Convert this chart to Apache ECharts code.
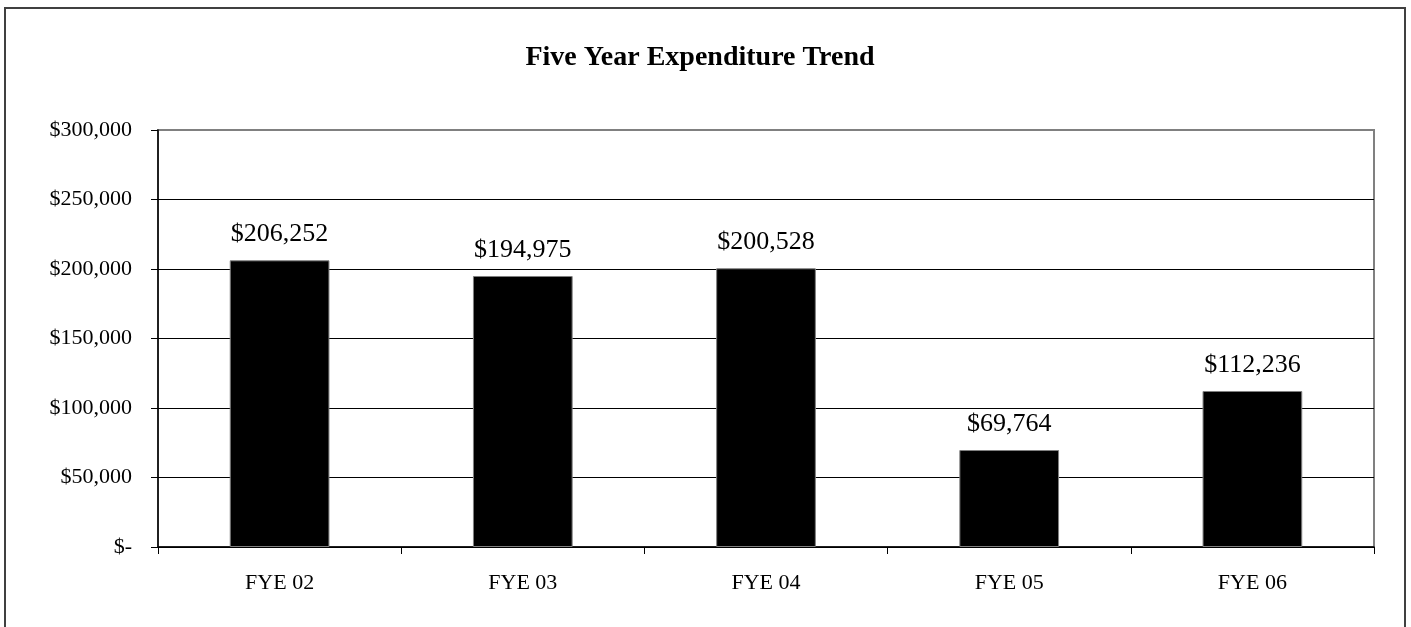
<!DOCTYPE html>
<html><head><meta charset="utf-8">
<script src="https://cdn.jsdelivr.net/npm/echarts@6/dist/echarts.min.js"></script>
<style>html,body{margin:0;padding:0;background:#fff}#c{width:1411px;height:627px}</style>
</head><body><div id="c"></div>
<script>
const categories = ['FYE 02','FYE 03','FYE 04','FYE 05','FYE 06'];
const expenditures = [206252, 194975, 200528, 69764, 112236];
const yTicks = [0, 50000, 100000, 150000, 200000, 250000, 300000];

const FONT = '"Liberation Serif", "Times New Roman", serif';
function money(v){ return v === 0 ? '$-' : '$' + v.toLocaleString('en-US'); }

const chart = echarts.init(document.getElementById('c'));
chart.setOption({
  animation: false,
  backgroundColor: '#fff',
  title: {
    text: 'Five Year Expenditure Trend',
    left: 695, top: 39, textAlign: 'center',
    textStyle: {fontFamily: FONT, fontWeight: 'bold', fontSize: 28, color: '#000'}
  },
  graphic: [{
    type: 'rect', shape: {x: 5, y: 8, width: 1400, height: 630},
    style: {fill: 'none', stroke: '#404040', lineWidth: 2}, silent: true
  }],
  grid: {left: 158, right: 37, top: 130, bottom: 80, show: true, borderColor: '#808080', borderWidth: 2, backgroundColor: 'transparent'},
  xAxis: {
    type: 'category', data: categories,
    axisLine: {lineStyle: {color: '#000', width: 1.5}},
    axisTick: {show: true, alignWithLabel: false, length: 7, lineStyle: {color: '#000'}},
    axisLabel: {fontFamily: FONT, fontSize: 22, color: '#000', margin: 25},
    splitLine: {show: false}
  },
  yAxis: {
    type: 'value', min: yTicks[0], max: yTicks[yTicks.length-1], interval: yTicks[1]-yTicks[0],
    axisLine: {show: true, lineStyle: {color: '#000', width: 1.5}},
    axisTick: {show: true, length: 7, lineStyle: {color: '#000'}},
    axisLabel: {fontFamily: FONT, fontSize: 22, color: '#000', margin: 26, formatter: money},
    splitLine: {show: true, lineStyle: {color: ['#000','#000','#000','#000','#000','#000','#808080'], width: 1}}
  },
  series: [{
    type: 'bar', data: expenditures, barWidth: '41%',
    itemStyle: {color: '#000', borderColor: '#808080', borderWidth: 1},
    label: {show: true, position: 'top', distance: 13, fontFamily: FONT, fontSize: 26, color: '#000', formatter: p => money(p.value)}
  }]
});
</script></body></html>
